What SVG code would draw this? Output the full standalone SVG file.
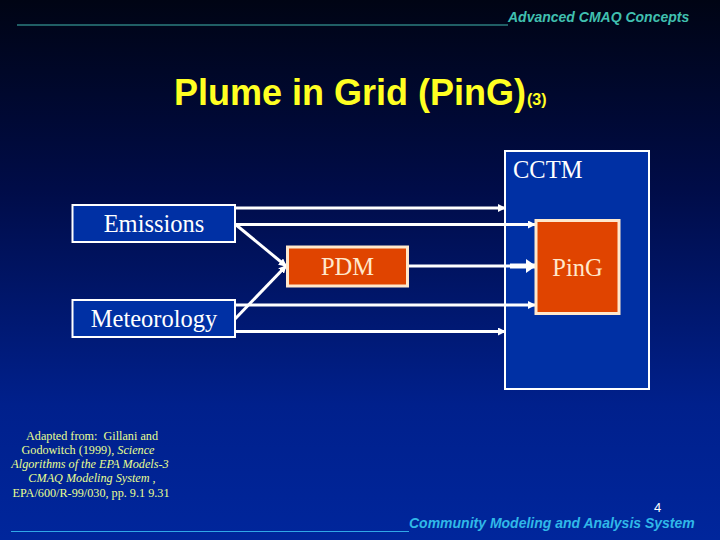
<svg xmlns="http://www.w3.org/2000/svg" width="720" height="540" viewBox="0 0 720 540">
<defs>
<linearGradient id="bg" x1="0" y1="0" x2="0" y2="1">
<stop offset="0" stop-color="#000414"/>
<stop offset="0.35" stop-color="#000c48"/>
<stop offset="0.75" stop-color="#00208c"/>
<stop offset="1" stop-color="#00269c"/>
</linearGradient>
<marker id="ah" markerWidth="8" markerHeight="8" refX="7" refY="4" orient="auto" markerUnits="userSpaceOnUse">
<path d="M0,0 L8,4 L0,8 Z" fill="#ffffff"/>
</marker>
<marker id="ahb" markerWidth="10" markerHeight="14" refX="9" refY="7" orient="auto" markerUnits="userSpaceOnUse">
<path d="M0,0 L10,7 L0,14 Z" fill="#ffffff"/>
</marker>
<style>
.hdr{font-family:"Liberation Sans",Arial,sans-serif;font-style:italic;font-weight:bold;font-size:14px;}
.box{fill:#0030a4;stroke:#ffffff;stroke-width:2;}
.obox{fill:#e04400;stroke:#ffe8cc;stroke-width:3;}
.lbl{font-family:"Liberation Serif","Times New Roman",serif;font-size:24.5px;fill:#ffffff;}
.olbl{font-family:"Liberation Serif","Times New Roman",serif;font-size:24.5px;fill:#ffe8cc;}
.con{stroke:#ffffff;stroke-width:3;fill:none;}
.fn{font-family:"Liberation Serif","Times New Roman",serif;font-size:12.2px;fill:#e8ff90;}
</style>
</defs>
<rect width="720" height="540" fill="url(#bg)"/>
<line x1="17" y1="25" x2="508" y2="25" stroke="#40b8b0" stroke-width="1"/>
<text x="508" y="22" class="hdr" fill="#40c0b0">Advanced CMAQ Concepts</text>
<text x="174" y="105" font-family="Liberation Sans,Arial,sans-serif" font-weight="bold" font-size="36" fill="#ffff22">Plume in Grid (PinG)<tspan font-size="16" dx="1">(3)</tspan></text>
<g id="cctm">
<rect x="505" y="151" width="144" height="238" class="box" fill="#0028a0"/>
<text x="513" y="178" class="lbl">CCTM</text>
</g>
<g id="connectors">
<line x1="235" y1="208" x2="505" y2="208" class="con" marker-end="url(#ah)"/>
<line x1="235" y1="224.5" x2="535" y2="224.5" class="con" marker-end="url(#ah)"/>
<line x1="235" y1="224" x2="286" y2="266" class="con" marker-end="url(#ah)"/>
<line x1="235" y1="319" x2="286" y2="266" class="con" marker-end="url(#ah)"/>
<line x1="408" y1="266" x2="512" y2="266" class="con"/>
<line x1="510" y1="266" x2="535" y2="266" stroke="#ffffff" stroke-width="5" marker-end="url(#ahb)"/>
<line x1="235" y1="305" x2="535" y2="305" class="con" marker-end="url(#ah)"/>
<line x1="235" y1="331.5" x2="505" y2="331.5" class="con" marker-end="url(#ah)"/>
</g>
<g id="emissions">
<rect x="72.5" y="205" width="162.5" height="37" class="box"/>
<text x="154" y="232" class="lbl" text-anchor="middle">Emissions</text>
</g>
<g id="meteorology">
<rect x="72.5" y="300" width="162.5" height="37" class="box"/>
<text x="154" y="327" class="lbl" text-anchor="middle">Meteorology</text>
</g>
<g id="pdm">
<rect x="287.5" y="247" width="120" height="39" class="obox"/>
<text x="347.5" y="275" class="olbl" text-anchor="middle">PDM</text>
</g>
<g id="ping">
<rect x="536" y="220.5" width="83" height="93" class="obox"/>
<text x="577.5" y="276" class="olbl" text-anchor="middle">PinG</text>
</g>
<g id="footnote" text-anchor="middle">
<text x="92" y="440" class="fn">Adapted from:&#160; Gillani and</text>
<text x="88" y="454" class="fn">Godowitch (1999), <tspan font-style="italic">Science</tspan></text>
<text x="90" y="468" class="fn" font-style="italic">Algorithms of the EPA Models-3</text>
<text x="92" y="482" class="fn"><tspan font-style="italic">CMAQ Modeling System</tspan> ,</text>
<text x="91" y="497" class="fn">EPA/600/R-99/030, pp. 9.1 9.31</text>
</g>
<text x="654" y="512" font-family="Liberation Sans,Arial,sans-serif" font-size="13" fill="#ffffff">4</text>
<line x1="11" y1="531.5" x2="409" y2="531.5" stroke="#30a8e8" stroke-width="1"/>
<text x="409" y="528" class="hdr" fill="#30b8e8">Community Modeling and Analysis System</text>
</svg>
